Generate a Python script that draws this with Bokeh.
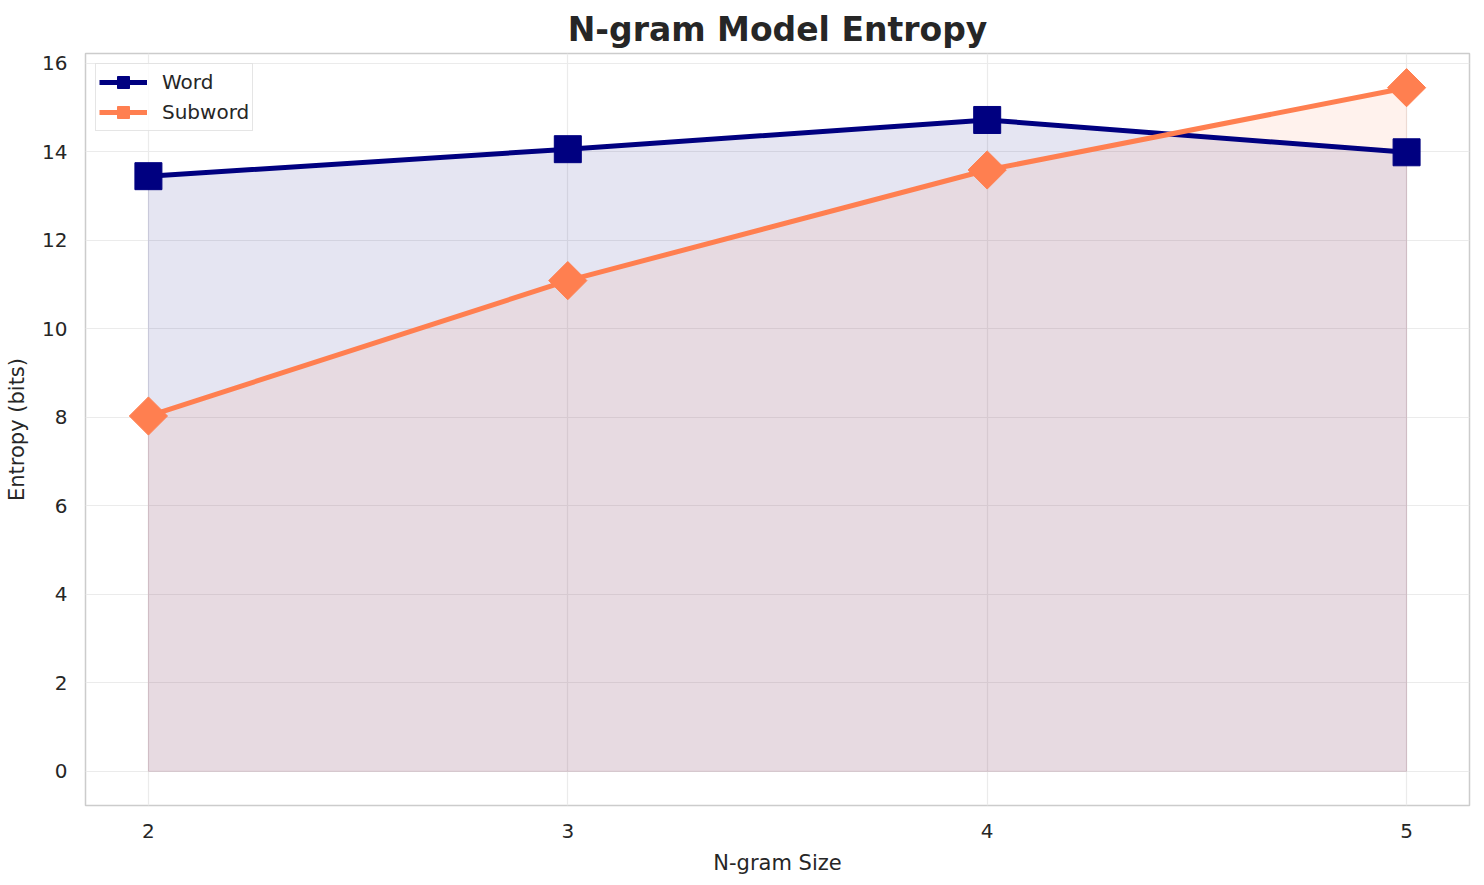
import numpy as np
from bokeh.plotting import figure
from bokeh.models import ColumnDataSource, FixedTicker, Legend, LegendItem, Range1d
from bokeh.embed import file_html
from bokeh.resources import INLINE

# ---- data ----
ngram_sizes = [2, 3, 4, 5]
word_entropy = [13.45, 14.06, 14.72, 13.99]
subword_entropy = [8.03, 11.09, 13.59, 15.45]
x_ticks = [2, 3, 4, 5]
y_ticks = [0, 2, 4, 6, 8, 10, 12, 14, 16]

NAVY = "#000080"
CORAL = "#FF7F50"
TXT = "#262626"
FONT = "DejaVu Sans"

p = figure(width=1476, height=877, output_backend="svg", toolbar_location=None,
           title="N-gram Model Entropy",
           x_range=Range1d(1.85, 5.15), y_range=Range1d(-0.7725, 16.2225),
           min_border_left=85, min_border_right=7, min_border_top=53, min_border_bottom=70)

p.title.text_font = FONT
p.title.text_font_size = "33px"
p.title.text_font_style = "bold"
p.title.text_color = TXT
p.title.align = "center"

p.background_fill_color = "white"
p.border_fill_color = "white"
p.outline_line_color = "#cccccc"
p.outline_line_width = 1.5

for ax in (p.xaxis, p.yaxis):
    ax.axis_line_color = None
    ax.major_tick_line_color = None
    ax.minor_tick_line_color = None
    ax.major_label_text_font = FONT
    ax.major_label_text_font_size = "20px"
    ax.major_label_text_color = TXT
    ax.axis_label_text_font = FONT
    ax.axis_label_text_font_size = "21px"
    ax.axis_label_text_font_style = "normal"
    ax.axis_label_text_color = TXT
    ax.major_label_standoff = 12
    ax.axis_label_standoff = 10

p.xaxis.ticker = FixedTicker(ticks=x_ticks)
p.yaxis.ticker = FixedTicker(ticks=y_ticks)
p.xaxis.axis_label = "N-gram Size"
p.yaxis.axis_label = "Entropy (bits)"

p.grid.grid_line_color = "#ebebeb"
p.grid.grid_line_width = 1.2

# fills (area under each curve)
def area(xs, ys):
    px = [xs[0]] + list(xs) + [xs[-1]]
    py = [0] + list(ys) + [0]
    return px, py

wx, wy = area(ngram_sizes, word_entropy)
sx, sy = area(ngram_sizes, subword_entropy)
p.patch(wx, wy, fill_color=NAVY, fill_alpha=0.1, line_color=NAVY, line_alpha=0.1, line_width=1)
p.patch(sx, sy, fill_color=CORAL, fill_alpha=0.1, line_color=CORAL, line_alpha=0.1, line_width=1)

src = ColumnDataSource(dict(x=ngram_sizes, w=word_entropy, s=subword_entropy))

wl = p.line("x", "w", source=src, line_color=NAVY, line_width=5)
wm = p.scatter("x", "w", source=src, marker="square", size=27,
               fill_color=NAVY, line_color=NAVY)
sl = p.line("x", "s", source=src, line_color=CORAL, line_width=5)
sm = p.scatter("x", "s", source=src, marker="square", size=27, angle=np.pi / 4,
               fill_color=CORAL, line_color=CORAL)

legend = Legend(items=[LegendItem(label="Word", renderers=[wl, wm]),
                       LegendItem(label="Subword", renderers=[sl, sm])],
                location="top_left")
legend.label_text_font = FONT
legend.label_text_font_size = "20px"
legend.label_text_color = TXT
legend.glyph_width = 48
legend.glyph_height = 30
legend.spacing = 0
legend.padding = 3
legend.margin = 10
legend.label_standoff = 15
legend.border_line_color = "#cccccc"
legend.border_line_width = 1.2
legend.background_fill_alpha = 0.8
p.add_layout(legend)

open("out.html", "w").write(file_html(p, INLINE))
